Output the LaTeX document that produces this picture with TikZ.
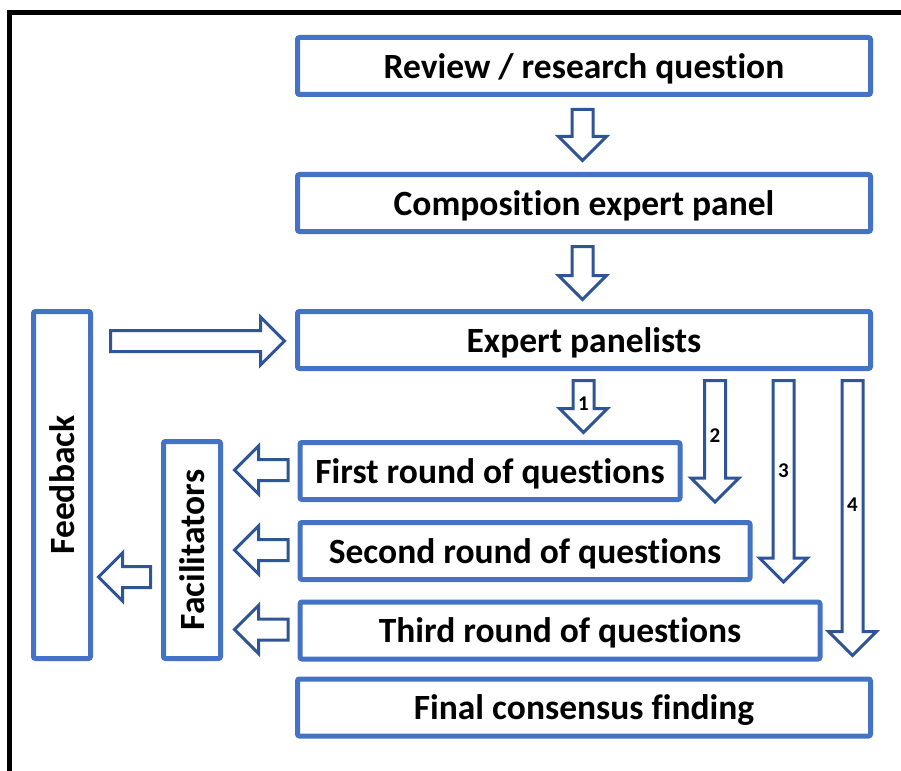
\documentclass[tikz,border=0pt]{standalone}
\usepackage{fontspec}
\setmainfont{Carlito}[Ligatures=NoCommon]
\usetikzlibrary{calc,positioning}
\definecolor{boxblue}{HTML}{4472C4}
\definecolor{arrowblue}{HTML}{2F5597}
\tikzset{
    stage/.style={
    rectangle,rounded corners=2pt,draw=boxblue,line width=5pt,fill=white,
    minimum height=57pt,inner sep=0pt,text depth=0pt,font=\fontsize{35.5}{38}\selectfont\bfseries
    },
    sidebox/.style={
    stage,minimum width=57pt
    },
    blockarrow/.style={
    draw=arrowblue,line width=3pt,fill=white,line join=miter
    },
    stepnum/.style={
    inner sep=0pt,font=\fontsize{21}{23}\selectfont\bfseries
    },
}
% hollow block arrow from #1 to #2
\newcommand{\blockarr}[2]{%
  \draw[blockarrow] let \p1=(#1), \p2=(#2),
    \n1={veclen(\x2-\x1,\y2-\y1)},
    \n2={(\x2-\x1)/\n1}, \n3={(\y2-\y1)/\n1} in
    ({\x1-(\n3)*10.5},{\y1+(\n2)*10.5})
    -- ({\x2-(\n2)*24-(\n3)*10.5},{\y2-(\n3)*24+(\n2)*10.5})
    -- ({\x2-(\n2)*24-(\n3)*24},{\y2-(\n3)*24+(\n2)*24})
    -- (\p2)
    -- ({\x2-(\n2)*24+(\n3)*24},{\y2-(\n3)*24-(\n2)*24})
    -- ({\x2-(\n2)*24+(\n3)*10.5},{\y2-(\n3)*24-(\n2)*10.5})
    -- ({\x1+(\n3)*10.5},{\y1-(\n2)*10.5}) -- cycle;}

\begin{document}
\begin{tikzpicture}[x=1pt, y=-1pt, node distance=137pt, on grid]
   \useasboundingbox (0,0) rectangle (901,770);
   \draw[line width=4.5pt] (9.5,12.5) rectangle (920,790);

   \node[stage,minimum width=573pt] (review) at (584,66) {Review / research question};
   \node[stage,minimum width=573pt] (compo) [below=of review] {Composition expert panel};
   \node[stage,minimum width=573pt] (panel) [below=of compo] {Expert panelists};
   \node[stage,minimum width=380pt,anchor=west] (round1) at (297.5,471) {First round of questions};
   \node[stage,minimum width=450pt,anchor=west] (round2) at (297.5,551) {Second round of questions};
   \node[stage,minimum width=520pt,anchor=west] (round3) at (297.5,630.5) {Third round of questions};
   \node[stage,minimum width=573pt] (final) at (584,707.5) {Final consensus finding};
   \node[sidebox,minimum height=347pt] (feedback) at (62,485) {\rotatebox{90}{Feedback}};
   \node[sidebox,minimum height=217pt] (facil) at (192,550) {\rotatebox{90}{Facilitators}};

   % downward arrows
   \coordinate (d1s) at ($(review.south)+(-1.5,12.5)$);
   \coordinate (d1e) at ($(compo.north)+(-1.5,-11.5)$);
   \coordinate (d2s) at ($(compo.south)+(-1.5,12.5)$);
   \coordinate (d2e) at ($(panel.north)+(-1.5,-9.5)$);
   \blockarr{d1s}{d1e}
   \blockarr{d2s}{d2e}

   % the four rounds
   \coordinate (r1s) at ($(panel.south)+(-0.5,9.5)$);
   \coordinate (r1e) at ($(r1s |- round1.north)+(0,-7.5)$);
   \coordinate (r2s) at ($(panel.south east)+(-158,9.5)$);
   \coordinate (r2e) at (r2s |- round1.south);
   \coordinate (r3s) at ($(panel.south east)+(-89.5,9.5)$);
   \coordinate (r3e) at (r3s |- round2.south);
   \coordinate (r4s) at ($(panel.south east)+(-20.5,9.5)$);
   \coordinate (r4e) at ($(r4s |- round3.south)+(0,-6)$);
   \foreach \r in {1,...,4}{
     \blockarr{r\r s}{r\r e}
     \node[stepnum] (num\r) at ($(r\r s)!0.45!(r\r e)$) {\r};
   }

   % back to the facilitators and the panel
   \foreach \r in {1,2,3}{
     \coordinate (f\r s) at ($(round\r.west)+(-9.5,-1)$);
     \coordinate (f\r e) at ($(facil.east |- round\r.west)+(11.5,-1)$);
     \blockarr{f\r s}{f\r e}
   }
   \coordinate (fbs) at ($(facil.west)+(-10.5,27)$);
   \coordinate (fbe) at ($(feedback.east |- fbs)+(5.5,0)$);
   \blockarr{fbs}{fbe}
   \coordinate (fps) at ($(feedback.east |- panel.west)+(17.5,1)$);
   \coordinate (fpe) at ($(panel.west)+(-10.5,1)$);
   \blockarr{fps}{fpe}
\end{tikzpicture}
\end{document}
